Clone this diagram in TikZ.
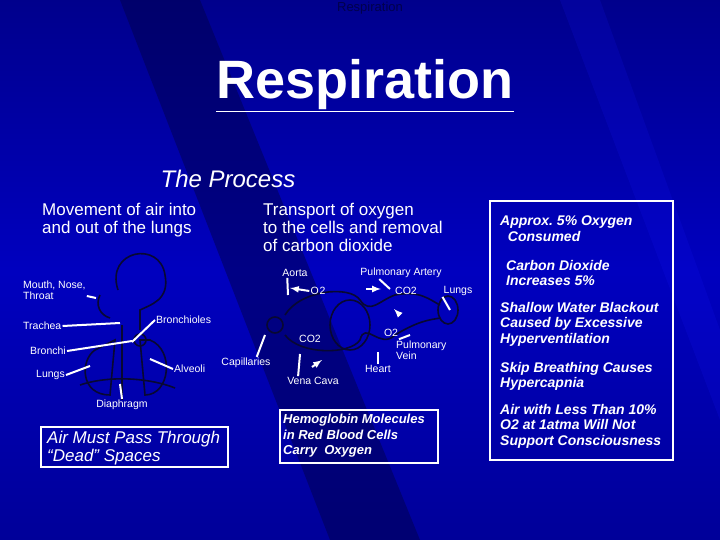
\documentclass[tikz,border=0pt]{standalone}
\usepackage{fontspec}
\setmainfont{Liberation Sans}
\definecolor{bodyc}{RGB}{8,8,50}
\begin{document}
\begin{tikzpicture}[x=1pt,y=-1pt,
  lab/.style={text=white,font=\fontsize{10.5}{11.5}\selectfont,inner sep=1pt},
  big/.style={text=white,font=\fontsize{17}{18}\selectfont,align=left,inner sep=0pt},
  side/.style={text=white,font=\fontsize{14}{15.5}\selectfont\bfseries\itshape,align=left,inner sep=0pt},
  ptr/.style={draw=white,line width=2pt},
  body/.style={draw=bodyc,line width=1.6pt},
  box/.style={draw=white,line width=1.5pt}]
\useasboundingbox (0,0) rectangle (720,540);
\shade[top color=blue!55!black,bottom color=blue!60!black,middle color=blue!75!black] (0,0) rectangle (720,540);
\fill[blue!30!black,opacity=0.5] (120,0) -- (200,0) -- (420,540) -- (330,540) -- cycle;
\fill[blue!90!white,opacity=0.15] (560,0) -- (600,0) -- (720,330) -- (720,420) -- cycle;
\node[text=blue!30!black,font=\fontsize{13}{14}\selectfont] (hdr) at (370,8) {Respiration};
\node[text=white,font=\fontsize{54}{56}\selectfont\bfseries] (title) at (365,86) {\underline{Respiration}};
\node[text=white,font=\fontsize{24}{26}\selectfont\itshape] (proc) at (228,179) {The Process};
\node[big,anchor=north west] (mov) at (42,203) {Movement of air into\\and out of the lungs};
\node[big,anchor=north west] (tra) at (263,203) {Transport of oxygen\\to the cells and removal\\of carbon dioxide};
% body sketch
\draw[body] (118,290) .. controls (105,250) and (160,240) .. (165,275) .. controls (170,300) and (150,305) .. (140,310) -- (140,330);
\draw[body] (100,295) .. controls (95,305) and (100,315) .. (110,318);
\draw[body] (122,325) -- (122,400);
\draw[body] (95,350) .. controls (80,360) and (80,395) .. (110,395) -- (115,340) -- cycle;
\draw[body] (150,340) .. controls (175,350) and (170,395) .. (145,395) -- (140,340) -- cycle;
\draw[body] (80,385) .. controls (110,375) and (150,378) .. (175,388);
\draw[body] (140,340) circle (6);
% circulation sketch
\draw[body] (275,325) circle (8);
\draw[body] (285,315) .. controls (300,290) and (350,285) .. (360,300) .. controls (370,315) and (380,300) .. (395,295) .. controls (420,290) and (430,300) .. (440,305);
\draw[body] (285,335) .. controls (300,355) and (350,355) .. (360,340) .. controls (365,320) and (380,350) .. (395,335) .. controls (420,320) and (430,320) .. (440,318);
\draw[body] (350,325) ellipse (20 and 25);
\draw[body] (448,310) ellipse (10 and 14);
% left labels
\node[lab,anchor=west,align=left] (mnt) at (22,290) {Mouth, Nose,\\Throat};
\node[lab,anchor=west] (trach) at (22,326) {Trachea};
\node[lab,anchor=west] (bronchi) at (29,351) {Bronchi};
\node[lab,anchor=west] (lungsL) at (35,375) {Lungs};
\node[lab,anchor=west] (bronchio) at (155,320) {Bronchioles};
\node[lab,anchor=west] (alv) at (173,369) {Alveoli};
\node[lab] (dia) at (122,405) {Diaphragm};
\coordinate (pm) at (96,298); \coordinate (pt) at (120,323);
\coordinate (pb) at (132,341); \coordinate (pl) at (90,366);
\coordinate (pbr) at (132,342); \coordinate (pa) at (150,359);
\coordinate (pd) at (120,384);
\draw[ptr] (mnt.east|-0,296) -- (pm);
\draw[ptr] (trach.east) -- (pt);
\draw[ptr] (bronchi.east) -- (pb);
\draw[ptr] (lungsL.east) -- (pl);
\draw[ptr] (bronchio.west) -- (pbr);
\draw[ptr] (alv.west) -- (pa);
\draw[ptr] (dia.north) -- (pd);
% right labels
\node[lab] (aorta) at (295,273) {Aorta};
\node[lab] (pa2) at (401,273) {Pulmonary Artery};
\node[lab] (o2a) at (318,291) {O\kern1pt 2};
\node[lab] (co2a) at (406,291) {CO2};
\node[lab] (lungsR) at (458,291) {Lungs};
\node[lab] (co2b) at (310,339) {CO2};
\node[lab] (o2b) at (391,333) {O2};
\node[lab,align=left,anchor=west] (pv) at (395,350) {Pulmonary\\Vein};
\node[lab] (cap) at (246,363) {Capillaries};
\node[lab] (heart) at (378,369) {Heart};
\node[lab] (vc) at (313,381) {Vena Cava};
\coordinate (aor) at (288,295); \coordinate (ao2) at (290,288);
\coordinate (pa2p) at (390,289); \coordinate (lr) at (450,310);
\coordinate (capp) at (265,335); \coordinate (vcp) at (300,354);
\coordinate (hp) at (378,352); \coordinate (pvp) at (410,335);
\draw[ptr] (aorta.south west)++(6,0) -- (aor);
\draw[ptr,-latex] (o2a.west) -- (ao2);
\draw[ptr,-latex] (366,289) coordinate (sa) -- (381,289) coordinate (sb);
\draw[ptr] (pa2.south west)++(20,0) -- (pa2p);
\draw[ptr] (lungsR.south west) -- (lr);
\draw[ptr] (cap.north east)++(-15,0) -- (capp);
\draw[ptr] (vc.north west)++(12,0) -- (vcp);
\draw[ptr] (heart.north) -- (hp);
\draw[ptr] (pv.north west)++(4,0) -- (pvp);
\draw[ptr,-latex] (400,315) coordinate (ua) -- (394,309) coordinate (ub);
\draw[ptr,-latex] (312,367) coordinate (va) -- (322,360) coordinate (vb);
% boxes
\draw[box] (41,427) rectangle (228,467);
\node[side,font=\fontsize{17}{18}\selectfont\itshape,anchor=north west] (air) at (47,431) {Air Must Pass Through\\``Dead'' Spaces};
\draw[box] (280,410) rectangle (438,463);
\node[side,font=\fontsize{13}{15.5}\selectfont\bfseries\itshape,anchor=north west] (hem) at (283,414) {Hemoglobin Molecules\\in Red Blood Cells\\Carry\ \ Oxygen};
\draw[box] (490,201) rectangle (673,460);
\node[side,anchor=north west] (s1) at (500,216) {Approx.\ 5\% Oxygen\\\ \ Consumed};
\node[side,anchor=north west] (s2) at (506,260) {Carbon Dioxide\\Increases 5\%};
\node[side,anchor=north west] (s3) at (500,302) {Shallow Water Blackout\\Caused by Excessive\\Hyperventilation};
\node[side,anchor=north west] (s4) at (500,362) {Skip Breathing Causes\\Hypercapnia};
\node[side,anchor=north west] (s5) at (500,404) {Air with Less Than 10\%\\O2 at 1atma Will Not\\Support Consciousness};
\end{tikzpicture}
\end{document}
